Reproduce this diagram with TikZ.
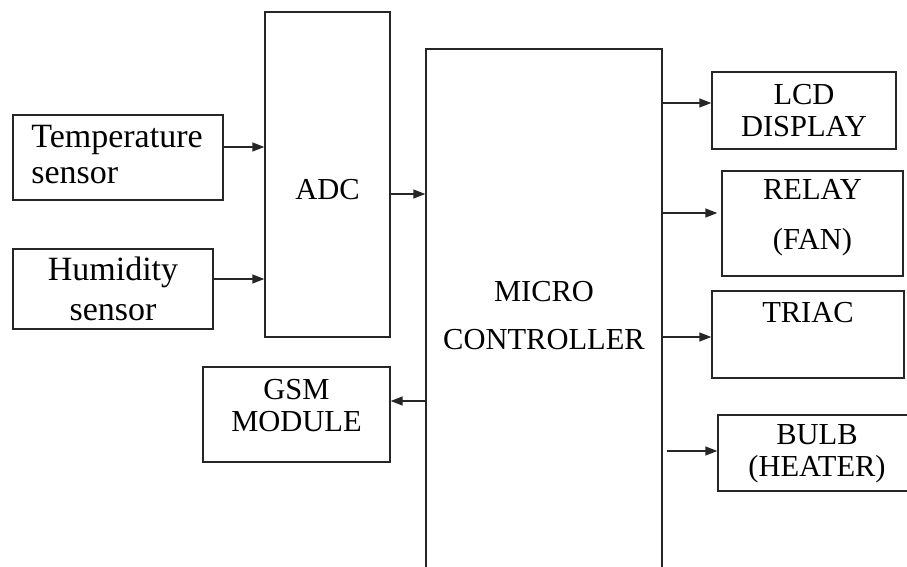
\documentclass[tikz,border=0pt]{standalone}
\usepackage{fontspec}
\setmainfont{Liberation Serif}
\usetikzlibrary{arrows.meta}
\tikzset{
  box/.style={draw=black!85, line width=1.4pt, inner sep=0pt},
  capsf/.style={font=\fontsize{30.5}{32}\selectfont, align=center, inner sep=0pt},
  sensf/.style={font=\fontsize{34}{36}\selectfont, align=left, inner sep=0pt},
  arr/.style={line width=1.4pt, draw=black!85, -{Triangle[length=12pt,width=9pt]}}
}
\begin{document}
\begin{tikzpicture}[x=1pt,y=-1pt]
\useasboundingbox (0,0) rectangle (907,567);
\clip (0,0) rectangle (907,567);
\fill[white] (0,0) rectangle (907,567);
% boxes
\node[box, minimum width=210pt, minimum height=85pt] (temp) at (118,157.5) {};
\node[sensf] (tempt) at (117,155) {Temperature\\sensor};
\node[box, minimum width=200pt, minimum height=80pt, sensf, align=center, font=\fontsize{34}{40}\selectfont] (hum) at (113,289) {Humidity\\sensor};
\node[box, minimum width=125pt, minimum height=325pt] (adc) at (327.5,174.5) {};
\node[capsf] (adct) at (327.5,190) {ADC};
\node[box, minimum width=236pt, minimum height=571pt] (mcu) at (544,334.5) {};
\node[capsf, font=\fontsize{30.5}{48}\selectfont] (mcut) at (544,316) {MICRO\\CONTROLLER};
\node[box, minimum width=187pt, minimum height=95pt] (gsm) at (296.5,414.5) {};
\node[capsf] (gsmt) at (296.5,406) {GSM\\MODULE};
\node[box, minimum width=184pt, minimum height=77pt, capsf] (lcd) at (804,110.5) {LCD\\DISPLAY};
\node[box, minimum width=181pt, minimum height=105pt] (relay) at (812.5,223.5) {};
\node[capsf, font=\fontsize{30.5}{50}\selectfont] (relayt) at (812.5,218) {RELAY\\(FAN)};
\node[box, minimum width=192pt, minimum height=87pt] (triac) at (808,334.5) {};
\node[capsf] (triact) at (808,313) {TRIAC};
\node[box, minimum width=191pt, minimum height=76pt] (bulb) at (813.5,453) {};
\node[capsf] (bulbt) at (817,454) {BULB\\(HEATER)};
% connectors
\draw[arr] (temp.east |- 0,147) -- (adc.west |- 0,147);
\draw[arr] (hum.east |- 0,279) -- (adc.west |- 0,279);
\draw[arr] (adc.east |- 0,194) -- (mcu.west |- 0,194);
\draw[arr] (mcu.west |- 0,401) -- (gsm.east |- 0,401);
\draw[arr] (mcu.east |- 0,103) -- (lcd.west |- 0,103);
\draw[arr] (mcu.east |- 0,213) -- ([xshift=-4pt]relay.west |- 0,213);
\draw[arr] (mcu.east |- 0,337) -- (triac.west |- 0,337);
\draw[arr] ([xshift=4pt]mcu.east |- 0,451) -- (bulb.west |- 0,451);
\end{tikzpicture}
\end{document}
